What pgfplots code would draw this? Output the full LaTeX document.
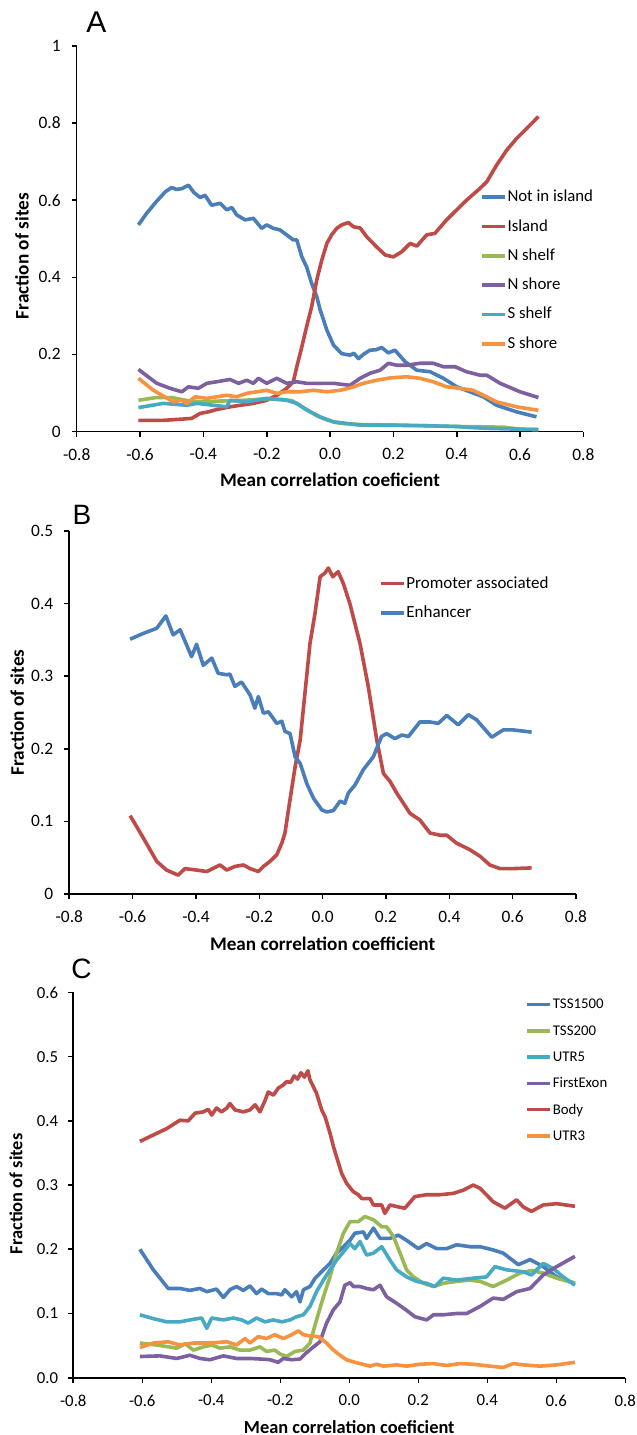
\documentclass[border=0pt]{standalone}
\usepackage{fontspec}
\setmainfont{Carlito}
\newfontfamily\letterfont{Liberation Sans}
\usepackage{pgfplots}
\pgfplotsset{compat=1.18}

\definecolor{exBlue}{HTML}{4A7EBB}
\definecolor{exRed}{HTML}{BE4B48}
\definecolor{exGreen}{HTML}{98B954}
\definecolor{exPurple}{HTML}{7D60A0}
\definecolor{exAqua}{HTML}{46AAC5}
\definecolor{exOrange}{HTML}{F69240}

\pgfplotsset{
  panel/.style={
    scale only axis,
    anchor=south west,
    xmin=-0.8, xmax=0.8,
    axis x line*=bottom, axis y line*=left,
    axis line style={black, line width=0.8pt},
    tick style={black, line width=0.8pt},
    tick align=outside, major tick length=2.5pt,
    xtick={-0.8,-0.6,-0.4,-0.2,0,0.2,0.4,0.6,0.8},
    xticklabels={-0.8,-0.6,-0.4,-0.2,0.0,0.2,0.4,0.6,0.8},
    ticklabel style={font=\fontsize{8.7}{10}\selectfont},
    xticklabel style={yshift=-2.5pt},
    yticklabel style={xshift=-2pt},
    label style={font=\bfseries\fontsize{9.6}{11}\selectfont},
    every axis plot/.append style={line width=1.8pt, no markers, line join=round},
    legend cell align=left,
    legend image code/.code={\draw[##1] (0pt,0pt) -- (11.7pt,0pt);},
    legend style={draw=none, fill=none, anchor=north west,
      inner xsep=0pt, inner ysep=0pt,
      font=\fontsize{8.4}{10}\selectfont,
      nodes={inner xsep=0.3pt, inner ysep=1pt, text height=6.5pt, text depth=2pt}},
  }
}

\begin{document}
\begin{tikzpicture}
\path[use as bounding box] (0pt,0pt) rectangle (318.5pt,-717.5pt);

% ---------------- A ----------------
\begin{axis}[panel,
  at={(38.35pt,-215.75pt)}, width=253.35pt, height=192.75pt,
  ymin=0, ymax=1,
  ytick={0,0.2,0.4,0.6,0.8,1},
  yticklabels={0,0.2,0.4,0.6,0.8,1},
  xlabel={Mean correlation coeficient},
  xlabel style={at={(axis description cs:0.5,-0.126)}, anchor=center},
  ylabel={Fraction of sites},
  ylabel style={at={(axis description cs:-0.108,0.455)}, anchor=center},
  legend style={at={(axis description cs:0.795,0.636)}, row sep=4.15pt},
]
\addplot[exBlue] coordinates {
(-0.605,0.536) (-0.58,0.565) (-0.55,0.595) (-0.52,0.622) (-0.500,0.633)
(-0.485,0.628) (-0.468,0.630) (-0.447,0.639) (-0.43,0.620) (-0.410,0.607)
(-0.395,0.613) (-0.374,0.587) (-0.347,0.592) (-0.326,0.575) (-0.310,0.581)
(-0.295,0.562) (-0.268,0.549) (-0.242,0.553) (-0.216,0.527) (-0.200,0.536)
(-0.179,0.527) (-0.158,0.523) (-0.137,0.510) (-0.116,0.497) (-0.105,0.497)
(-0.089,0.453) (-0.074,0.427) (-0.058,0.384) (-0.042,0.350) (-0.031,0.315)
(-0.010,0.263) (0.011,0.224) (0.037,0.202) (0.063,0.198) (0.075,0.203)
(0.090,0.189) (0.105,0.200) (0.126,0.211) (0.145,0.212) (0.163,0.218)
(0.184,0.204) (0.205,0.211) (0.237,0.181) (0.274,0.159) (0.316,0.155)
(0.358,0.138) (0.400,0.116) (0.442,0.103) (0.484,0.090) (0.526,0.068)
(0.589,0.051) (0.652,0.038)
};
\addlegendentry{Not in island}
\addplot[exRed] coordinates {
(-0.605,0.029) (-0.526,0.029) (-0.470,0.032) (-0.437,0.034) (-0.410,0.047)
(-0.384,0.051) (-0.358,0.057) (-0.316,0.064) (-0.284,0.068) (-0.242,0.073)
(-0.200,0.081) (-0.168,0.094) (-0.137,0.112) (-0.116,0.129) (-0.105,0.168)
(-0.089,0.220) (-0.074,0.272) (-0.058,0.324) (-0.042,0.393) (-0.026,0.445)
(-0.010,0.488) (0.005,0.510) (0.021,0.527) (0.037,0.536) (0.058,0.542)
(0.074,0.531) (0.095,0.528) (0.116,0.505) (0.147,0.479) (0.174,0.458)
(0.200,0.453) (0.226,0.466) (0.253,0.488) (0.274,0.481) (0.305,0.510)
(0.331,0.514) (0.368,0.549) (0.400,0.575) (0.431,0.600) (0.474,0.631)
(0.495,0.648) (0.526,0.691) (0.558,0.730) (0.589,0.760) (0.621,0.786)
(0.658,0.817)
};
\addlegendentry{Island}
\addplot[exGreen] coordinates {
(-0.605,0.081) (-0.55,0.088) (-0.50,0.088) (-0.45,0.080) (-0.40,0.077)
(-0.35,0.079) (-0.30,0.080) (-0.25,0.082) (-0.20,0.085) (-0.15,0.083)
(-0.12,0.080) (-0.10,0.070) (-0.07,0.055) (-0.04,0.040) (-0.01,0.030)
(0.02,0.023) (0.05,0.020) (0.10,0.018) (0.20,0.017) (0.30,0.015)
(0.40,0.013) (0.50,0.012) (0.55,0.011) (0.60,0.006) (0.658,0.005)
};
\addlegendentry{N shelf}
\addplot[exPurple] coordinates {
(-0.605,0.161) (-0.547,0.125) (-0.505,0.112) (-0.468,0.103) (-0.447,0.116)
(-0.416,0.112) (-0.389,0.125) (-0.358,0.129) (-0.316,0.135) (-0.289,0.125)
(-0.263,0.133) (-0.242,0.125) (-0.226,0.138) (-0.200,0.125) (-0.168,0.138)
(-0.137,0.125) (-0.105,0.129) (-0.074,0.125) (-0.031,0.125) (0.011,0.125)
(0.040,0.122) (0.063,0.120) (0.095,0.138) (0.126,0.151) (0.158,0.159)
(0.184,0.177) (0.210,0.172) (0.242,0.172) (0.284,0.177) (0.326,0.177)
(0.358,0.168) (0.395,0.168) (0.431,0.155) (0.474,0.146) (0.495,0.146)
(0.537,0.125) (0.600,0.103) (0.658,0.088)
};
\addlegendentry{N shore}
\addplot[exAqua] coordinates {
(-0.605,0.062) (-0.526,0.073) (-0.452,0.068) (-0.420,0.073) (-0.368,0.068)
(-0.326,0.064) (-0.316,0.081) (-0.263,0.077) (-0.200,0.086) (-0.137,0.081)
(-0.105,0.073) (-0.074,0.056) (-0.031,0.038) (0.011,0.025) (0.053,0.021)
(0.090,0.017) (0.20,0.016) (0.30,0.015) (0.40,0.013) (0.45,0.010)
(0.50,0.008) (0.60,0.006) (0.658,0.005)
};
\addlegendentry{S shelf}
\addplot[exOrange] coordinates {
(-0.605,0.138) (-0.558,0.107) (-0.495,0.077) (-0.468,0.081) (-0.452,0.073)
(-0.426,0.090) (-0.389,0.086) (-0.358,0.090) (-0.326,0.094) (-0.295,0.090)
(-0.263,0.099) (-0.232,0.103) (-0.200,0.107) (-0.168,0.099) (-0.137,0.103)
(-0.095,0.103) (-0.052,0.107) (-0.010,0.103) (0.032,0.107) (0.063,0.113)
(0.105,0.125) (0.147,0.133) (0.190,0.139) (0.242,0.142) (0.284,0.138)
(0.326,0.129) (0.368,0.116) (0.410,0.112) (0.452,0.107) (0.484,0.094)
(0.526,0.077) (0.589,0.064) (0.658,0.055)
};
\addlegendentry{S shore}
\end{axis}

% ---------------- B ----------------
\begin{axis}[panel,
  at={(34.65pt,-447pt)}, width=253.35pt, height=181.5pt,
  ymin=0, ymax=0.5,
  ytick={0,0.1,0.2,0.3,0.4,0.5},
  yticklabels={0,0.1,0.2,0.3,0.4,0.5},
  xlabel={Mean correlation coefficient},
  xlabel style={at={(axis description cs:0.5,-0.136)}, anchor=center},
  ylabel={Fraction of sites},
  ylabel style={at={(axis description cs:-0.103,0.5)}, anchor=center},
  legend style={at={(axis description cs:0.61,0.885)}, row sep=4.15pt,
    font=\fontsize{8.5}{10}\selectfont},
]
\addplot[exRed] coordinates {
(-0.608,0.108) (-0.566,0.077) (-0.524,0.045) (-0.493,0.033) (-0.456,0.026)
(-0.435,0.035) (-0.398,0.033) (-0.366,0.031) (-0.324,0.040) (-0.303,0.033)
(-0.277,0.038) (-0.250,0.040) (-0.229,0.035) (-0.203,0.031) (-0.187,0.038)
(-0.166,0.045) (-0.145,0.054) (-0.129,0.070) (-0.119,0.084) (-0.103,0.130)
(-0.087,0.175) (-0.071,0.212) (-0.056,0.276) (-0.040,0.345) (-0.024,0.387)
(-0.008,0.437) (0.007,0.442) (0.018,0.449) (0.032,0.437) (0.049,0.444)
(0.065,0.428) (0.086,0.400) (0.118,0.345) (0.144,0.286) (0.171,0.212)
(0.192,0.166) (0.213,0.155) (0.234,0.139) (0.276,0.111) (0.307,0.102)
(0.339,0.084) (0.371,0.081) (0.392,0.081) (0.423,0.070) (0.465,0.061)
(0.497,0.052) (0.528,0.040) (0.560,0.035) (0.602,0.035) (0.660,0.036)
};
\addlegendentry{Promoter associated}
\addplot[exBlue] coordinates {
(-0.608,0.351) (-0.566,0.359) (-0.524,0.366) (-0.495,0.383) (-0.472,0.357)
(-0.450,0.364) (-0.414,0.327) (-0.398,0.344) (-0.377,0.315) (-0.350,0.325)
(-0.330,0.304) (-0.303,0.302) (-0.293,0.303) (-0.277,0.286) (-0.256,0.292)
(-0.229,0.274) (-0.214,0.256) (-0.203,0.272) (-0.187,0.249) (-0.171,0.251)
(-0.145,0.235) (-0.129,0.238) (-0.119,0.224) (-0.103,0.221) (-0.087,0.189)
(-0.071,0.180) (-0.050,0.152) (-0.029,0.132) (-0.003,0.116) (0.013,0.113)
(0.034,0.115) (0.055,0.128) (0.070,0.125) (0.081,0.139) (0.102,0.150)
(0.128,0.171) (0.160,0.189) (0.186,0.217) (0.202,0.221) (0.228,0.214)
(0.250,0.219) (0.271,0.217) (0.307,0.237) (0.339,0.237) (0.365,0.235)
(0.392,0.246) (0.428,0.233) (0.460,0.247) (0.486,0.240) (0.534,0.216)
(0.570,0.226) (0.602,0.226) (0.660,0.223)
};
\addlegendentry{Enhancer}
\end{axis}

% ---------------- C ----------------
\begin{axis}[panel,
  at={(36.65pt,-688.85pt)}, width=276pt, height=192.65pt,
  ymin=0, ymax=0.6,
  ytick={0,0.1,0.2,0.3,0.4,0.5,0.6},
  yticklabels={0.0,0.1,0.2,0.3,0.4,0.5,0.6},
  ticklabel style={font=\fontsize{8.4}{10}\selectfont},
  yticklabel style={xshift=0.5pt},
  label style={font=\bfseries\fontsize{9.2}{11}\selectfont},
  xlabel={Mean correlation coeficient},
  xlabel style={at={(axis description cs:0.5,-0.127)}, anchor=center},
  ylabel={Fraction of sites},
  ylabel style={at={(axis description cs:-0.104,0.477)}, anchor=center},
  legend style={at={(axis description cs:0.818,0.997)}, row sep=2.65pt,
    font=\fontsize{7.4}{9}\selectfont},
]
\addplot[exBlue] coordinates {
(-0.607,0.200) (-0.568,0.168) (-0.525,0.139) (-0.491,0.139) (-0.462,0.136)
(-0.433,0.139) (-0.413,0.134) (-0.385,0.138) (-0.365,0.125) (-0.346,0.137)
(-0.327,0.142) (-0.307,0.136) (-0.288,0.143) (-0.269,0.131) (-0.254,0.138)
(-0.235,0.131) (-0.211,0.131) (-0.196,0.129) (-0.187,0.137) (-0.167,0.126)
(-0.153,0.134) (-0.143,0.118) (-0.133,0.137) (-0.114,0.142) (-0.099,0.155)
(-0.075,0.168) (-0.056,0.178) (-0.037,0.194) (-0.017,0.204) (0.002,0.214)
(0.016,0.225) (0.041,0.227) (0.050,0.217) (0.070,0.233) (0.089,0.217)
(0.118,0.217) (0.142,0.222) (0.166,0.214) (0.200,0.201) (0.224,0.209)
(0.253,0.201) (0.282,0.201) (0.311,0.207) (0.350,0.204) (0.379,0.204)
(0.417,0.199) (0.446,0.194) (0.490,0.176) (0.524,0.184) (0.562,0.173)
(0.601,0.157) (0.654,0.147)
};
\addlegendentry{TSS1500}
\addplot[exGreen] coordinates {
(-0.607,0.054) (-0.559,0.051) (-0.500,0.046) (-0.476,0.053) (-0.452,0.043)
(-0.423,0.048) (-0.399,0.051) (-0.375,0.046) (-0.346,0.048) (-0.317,0.043)
(-0.288,0.043) (-0.259,0.048) (-0.240,0.041) (-0.216,0.043) (-0.201,0.037)
(-0.182,0.033) (-0.157,0.041) (-0.133,0.043) (-0.114,0.054) (-0.095,0.090)
(-0.075,0.126) (-0.056,0.157) (-0.037,0.194) (-0.017,0.225) (0.002,0.243)
(0.026,0.243) (0.045,0.251) (0.070,0.246) (0.094,0.235) (0.108,0.235)
(0.128,0.220) (0.147,0.194) (0.166,0.168) (0.186,0.157) (0.215,0.147)
(0.244,0.142) (0.272,0.147) (0.311,0.150) (0.350,0.152) (0.379,0.150)
(0.417,0.142) (0.456,0.152) (0.495,0.163) (0.528,0.167) (0.562,0.163)
(0.601,0.155) (0.654,0.147)
};
\addlegendentry{TSS200}
\addplot[exAqua] coordinates {
(-0.607,0.098) (-0.568,0.092) (-0.529,0.087) (-0.491,0.087) (-0.452,0.091)
(-0.428,0.093) (-0.413,0.077) (-0.399,0.093) (-0.365,0.090) (-0.336,0.093)
(-0.312,0.090) (-0.293,0.085) (-0.269,0.093) (-0.245,0.087) (-0.220,0.090)
(-0.196,0.087) (-0.172,0.090) (-0.153,0.095) (-0.133,0.098) (-0.114,0.111)
(-0.095,0.134) (-0.075,0.152) (-0.056,0.168) (-0.037,0.183) (-0.017,0.196)
(0.002,0.209) (0.016,0.201) (0.031,0.212) (0.050,0.191) (0.070,0.194)
(0.094,0.204) (0.118,0.183) (0.137,0.168) (0.166,0.157) (0.195,0.150)
(0.224,0.147) (0.248,0.142) (0.272,0.155) (0.311,0.152) (0.359,0.155)
(0.398,0.157) (0.422,0.173) (0.456,0.168) (0.504,0.165) (0.528,0.160)
(0.562,0.178) (0.591,0.170) (0.620,0.157) (0.654,0.144)
};
\addlegendentry{UTR5}
\addplot[exPurple] coordinates {
(-0.607,0.033) (-0.549,0.034) (-0.500,0.030) (-0.462,0.035) (-0.433,0.030)
(-0.404,0.028) (-0.365,0.034) (-0.327,0.030) (-0.288,0.030) (-0.254,0.029)
(-0.230,0.028) (-0.206,0.024) (-0.191,0.030) (-0.167,0.028) (-0.143,0.029)
(-0.124,0.039) (-0.104,0.048) (-0.085,0.056) (-0.066,0.085) (-0.046,0.106)
(-0.027,0.118) (-0.013,0.144) (0.002,0.148) (0.012,0.142) (0.031,0.142)
(0.050,0.139) (0.070,0.137) (0.089,0.144) (0.108,0.126) (0.137,0.116)
(0.166,0.105) (0.190,0.095) (0.224,0.090) (0.244,0.098) (0.272,0.098)
(0.311,0.100) (0.340,0.100) (0.379,0.111) (0.417,0.124) (0.446,0.122)
(0.485,0.134) (0.524,0.139) (0.562,0.160) (0.601,0.173) (0.654,0.189)
};
\addlegendentry{FirstExon}
\addplot[exRed] coordinates {
(-0.607,0.368) (-0.568,0.378) (-0.529,0.388) (-0.491,0.401) (-0.467,0.400)
(-0.447,0.412) (-0.423,0.414) (-0.409,0.418) (-0.399,0.409) (-0.385,0.420)
(-0.370,0.414) (-0.355,0.420) (-0.346,0.427) (-0.331,0.417) (-0.307,0.414)
(-0.288,0.417) (-0.273,0.425) (-0.259,0.414) (-0.244,0.432) (-0.235,0.445)
(-0.220,0.440) (-0.206,0.451) (-0.191,0.456) (-0.182,0.461) (-0.170,0.460)
(-0.160,0.470) (-0.150,0.465) (-0.140,0.475) (-0.130,0.468) (-0.120,0.478)
(-0.114,0.464) (-0.095,0.443) (-0.080,0.417) (-0.070,0.406) (-0.056,0.381)
(-0.046,0.360) (-0.037,0.344) (-0.022,0.318) (-0.008,0.303) (0.011,0.290)
(0.026,0.285) (0.036,0.279) (0.060,0.279) (0.070,0.269) (0.094,0.269)
(0.103,0.256) (0.118,0.269) (0.142,0.266) (0.161,0.264) (0.190,0.282)
(0.224,0.285) (0.263,0.285) (0.301,0.287) (0.330,0.292) (0.359,0.300)
(0.379,0.295) (0.417,0.274) (0.451,0.264) (0.485,0.277) (0.504,0.266)
(0.528,0.259) (0.562,0.269) (0.601,0.271) (0.654,0.267)
};
\addlegendentry{Body}
\addplot[exOrange] coordinates {
(-0.607,0.047) (-0.568,0.054) (-0.525,0.056) (-0.491,0.051) (-0.452,0.054)
(-0.404,0.054) (-0.355,0.056) (-0.327,0.051) (-0.302,0.061) (-0.288,0.054)
(-0.264,0.064) (-0.240,0.061) (-0.216,0.067) (-0.191,0.061) (-0.167,0.067)
(-0.148,0.073) (-0.133,0.067) (-0.114,0.065) (-0.090,0.064) (-0.066,0.054)
(-0.046,0.043) (-0.027,0.035) (-0.008,0.028) (0.016,0.024) (0.031,0.022)
(0.060,0.018) (0.079,0.021) (0.099,0.018) (0.137,0.020) (0.166,0.018)
(0.205,0.021) (0.244,0.022) (0.282,0.019) (0.321,0.022) (0.359,0.021)
(0.408,0.018) (0.446,0.016) (0.475,0.022) (0.504,0.020) (0.553,0.018)
(0.601,0.020) (0.654,0.024)
};
\addlegendentry{UTR3}
\end{axis}

\node[font=\letterfont\fontsize{15}{17}\selectfont] at (48.2pt,-11.25pt) {A};
\node[font=\letterfont\fontsize{14}{16}\selectfont] at (41pt,-257.5pt) {B};
\node[font=\letterfont\fontsize{14}{16}\selectfont] at (40.8pt,-484.2pt) {C};
\end{tikzpicture}
\end{document}
